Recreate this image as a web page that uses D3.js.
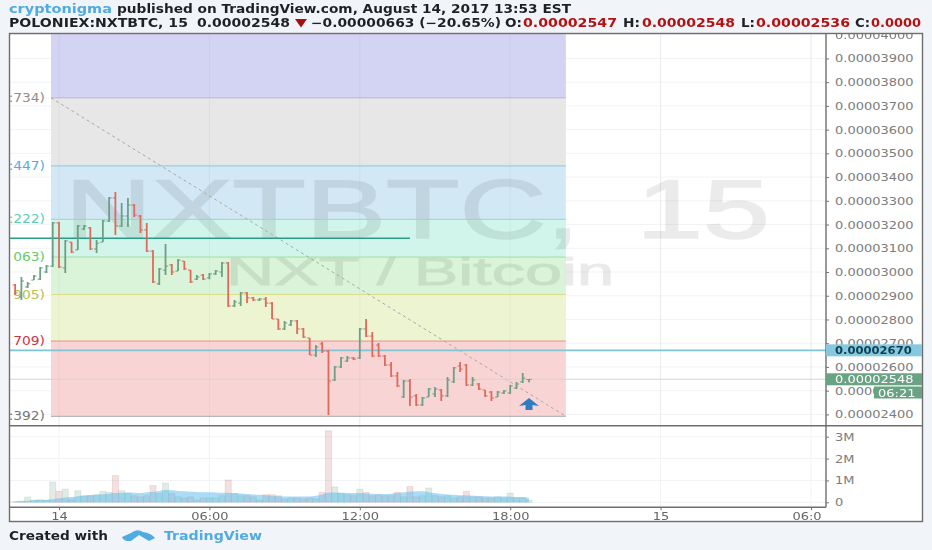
<!DOCTYPE html>
<html>
<head>
<meta charset="utf-8">
<script src="https://cdn.jsdelivr.net/npm/d3@7/dist/d3.min.js"></script>
<style>
html, body { margin: 0; padding: 0; background: #f1f4f8; overflow: hidden; }
svg { display: block; filter: blur(0.45px); }
text { font-family: "DejaVu Sans", sans-serif; }
</style>
</head>
<body>
<svg id="chart" width="932" height="550"></svg>
<script>
// prices are in satoshi (1e-8 BTC), bars are 15 min, first one at 22:15 on the 13th
let firstBarHour = -1.75;
let opens = [2945,2895,2937,2966,2970,3000,3025,3207,3017,3126,3093,3181,3186,3097,3126,3215,3312,3194,3236,3282,3236,3177,3088,2950,3008,3030,3004,3046,3008,2970,2987,2975,2992,3000,3038,2857,2869,2912,2891,2882,2886,2869,2802,2760,2777,2794,2760,2722,2650,2697,2667,2545,2600,2625,2638,2638,2760,2730,2692,2646,2608,2562,2473,2541,2478,2440,2473,2486,2503,2478,2537,2604,2608,2524,2528,2503,2494,2473,2490,2490,2511,2537,2547];
let highs = [2950,2979,2958,2987,3021,3030,3211,3211,3135,3126,3198,3198,3190,3135,3219,3316,3337,3291,3312,3287,3240,3207,3093,3017,3118,3034,3055,3046,3008,2987,2992,2996,3008,3042,3042,2882,2916,2916,2895,2891,2895,2874,2802,2794,2798,2798,2764,2722,2692,2705,2671,2604,2642,2646,2642,2764,2802,2747,2701,2650,2621,2579,2545,2549,2486,2473,2511,2515,2507,2558,2600,2621,2612,2558,2532,2503,2499,2499,2503,2524,2537,2574,2548];
let lows = [2903,2882,2933,2966,2966,2996,3021,3017,2996,3080,3093,3177,3093,3080,3126,3211,3156,3190,3190,3232,3164,3084,2954,2945,2987,2987,3004,3008,2954,2966,2966,2970,2987,2979,2853,2853,2857,2869,2878,2878,2853,2802,2756,2756,2773,2739,2722,2650,2642,2659,2397,2541,2596,2621,2629,2633,2726,2642,2642,2604,2558,2515,2469,2435,2435,2435,2473,2473,2456,2473,2532,2579,2520,2520,2503,2473,2456,2473,2486,2486,2507,2532,2536];
let closes = [2912,2962,2950,2983,3017,3025,3207,3021,3131,3084,3194,3194,3097,3122,3215,3312,3194,3236,3282,3240,3177,3088,2958,3013,3025,3000,3050,3013,2958,2979,2970,2992,3004,3038,2857,2874,2912,2891,2882,2886,2869,2802,2760,2785,2794,2760,2726,2650,2684,2667,2541,2600,2638,2638,2633,2760,2730,2646,2646,2608,2562,2520,2541,2473,2440,2469,2507,2507,2478,2545,2596,2591,2524,2545,2507,2478,2469,2494,2499,2520,2528,2553,2548];
let volumes = [0.04,0.06,0.24,0.1,0.12,0.1,0.93,0.5,0.6,0.12,0.53,0.3,0.3,0.35,0.5,0.45,1.22,0.53,0.4,0.3,0.25,0.3,0.76,0.4,0.87,0.4,0.25,0.2,0.25,0.1,0.2,0.2,0.2,0.3,1.02,0.4,0.3,0.3,0.25,0.1,0.35,0.35,0.3,0.15,0.2,0.2,0.15,0.2,0.15,0.45,3.27,0.7,0.4,0.35,0.3,0.6,0.45,0.3,0.35,0.3,0.3,0.45,0.25,0.72,0.25,0.3,0.65,0.3,0.25,0.3,0.2,0.25,0.5,0.25,0.25,0.2,0.2,0.25,0.2,0.42,0.2,0.2,0.1];
let volumeMa = [0.03,0.05,0.07,0.09,0.1,0.11,0.14,0.18,0.22,0.24,0.28,0.3,0.33,0.35,0.37,0.39,0.42,0.44,0.45,0.44,0.43,0.46,0.48,0.52,0.56,0.55,0.52,0.5,0.48,0.47,0.46,0.46,0.45,0.44,0.44,0.42,0.4,0.38,0.36,0.34,0.32,0.3,0.28,0.27,0.26,0.26,0.26,0.27,0.3,0.36,0.44,0.45,0.44,0.43,0.42,0.41,0.4,0.39,0.38,0.38,0.39,0.42,0.46,0.48,0.5,0.5,0.46,0.42,0.38,0.36,0.34,0.32,0.31,0.3,0.29,0.28,0.27,0.26,0.26,0.25,0.24,0.24,0.2];

let priceTicks = [2400,2500,2600,2700,2800,2900,3000,3100,3200,3300,3400,3500,3600,3700,3800,3900,4000];
let volumeTicks = [0,1,2,3];
let timeTicks = [0,6,12,18,24,30];
let timeLabels = ["14","06:00","12:00","18:00","15","06:0"];

let fibLevels = [4300,3734,3447,3222,3063,2905,2709,2392];
let fibFills = ["#d3d3f4","#e7e7e7","#d2e8f5","#d1f5ea","#d9f4d9","#edf4d2","#f8d4d5"];
let fibLines = ["#b5aee0","#b9b2de","#8cc6de","#86dcc6","#9be29b","#dcdc8a","#ea8e8e","#a8a8a8"];
let fibLabels = [":734)",":447)",":222)","063)","905)","709)",":392)"];
let fibLabelColors = ["#8d8d8d","#56acd8","#5cd0ae","#63cc63","#b4c24e","#cc3344","#777777"];
let fibHours = [-0.32, 20.22];

let lastPrice = 2548;
let alertPrice = 2670;
let resistPrice = 3142;
let resistEndHour = 14;

let svg = d3.select("#chart");

// stretch text sideways, the source picture is a bit wider than tall
function stretch(sel, k) {
    sel.each(function () {
        let t = d3.select(this);
        t.attr("textLength", this.getComputedTextLength() * k).attr("lengthAdjust", "spacingAndGlyphs");
    });
}

let x = d3.scaleLinear().domain([0, 6]).range([59, 209.4]);
let y = d3.scaleLinear().domain([2400, 4000]).range([414.4, 34.7]);
let yVol = d3.scaleLinear().domain([0, 3]).range([502.3, 436.7]);
let barHour = i => firstBarHour + i * 0.25;

let paneL = 10, paneR = 826, paneT = 34, mainB = 425.7, volB = 507.3, outerR = 922.5, outerB = 521.5;

svg.append("rect").attr("x", 9.5).attr("y", 33.5).attr("width", outerR - 9.5).attr("height", outerB - 33.5)
    .attr("fill", "#fff");

let defs = svg.append("defs");
defs.append("clipPath").attr("id", "mainClip").append("rect")
    .attr("x", paneL).attr("y", paneT).attr("width", paneR - paneL).attr("height", mainB - paneT);
defs.append("clipPath").attr("id", "axisClip").append("rect")
    .attr("x", paneR).attr("y", 33.5).attr("width", outerR - paneR).attr("height", mainB - 33.5);

// grid
let grid = svg.append("g").attr("stroke", "#f1f3f6").attr("stroke-width", 1);
grid.selectAll("line.h").data(priceTicks).join("line").attr("class", "h")
    .attr("x1", paneL).attr("x2", paneR).attr("y1", d => y(d)).attr("y2", d => y(d));
grid.selectAll("line.hv").data(volumeTicks).join("line").attr("class", "hv")
    .attr("x1", paneL).attr("x2", paneR).attr("y1", d => yVol(d)).attr("y2", d => yVol(d));
grid.selectAll("line.v").data(timeTicks).join("line").attr("class", "v")
    .attr("x1", d => x(d)).attr("x2", d => x(d)).attr("y1", paneT).attr("y2", volB);

let main = svg.append("g").attr("clip-path", "url(#mainClip)");

// fib zones
main.selectAll("rect.fib").data(fibFills).join("rect")
    .attr("class", "fib")
    .attr("x", x(fibHours[0])).attr("width", x(fibHours[1]) - x(fibHours[0]))
    .attr("y", (d, i) => y(fibLevels[i]))
    .attr("height", (d, i) => y(fibLevels[i + 1]) - y(fibLevels[i]))
    .attr("fill", d => d);
// vertical grid shows faintly through the zones
main.selectAll("line.vg").data(timeTicks).join("line").attr("class", "vg")
    .attr("x1", d => x(d)).attr("x2", d => x(d)).attr("y1", paneT).attr("y2", mainB)
    .attr("stroke", "rgba(0,0,0,0.04)");

// watermark
let wm = main.append("g").attr("opacity", 0.08).attr("fill", "#000").attr("stroke", "#000")
    .style("font-family", "'Liberation Sans', sans-serif");
wm.append("text").attr("x", 65).attr("y", 238).attr("font-size", 84).attr("stroke-width", 1.6)
    .attr("word-spacing", 16).attr("textLength", 705)
    .attr("lengthAdjust", "spacingAndGlyphs").style("font-family", "inherit").text("NXTBTC, 15");
wm.append("text").attr("x", 226).attr("y", 285).attr("font-size", 38).attr("stroke-width", 0.9).attr("textLength", 388)
    .attr("lengthAdjust", "spacingAndGlyphs").style("font-family", "inherit").text("NXT / Bitcoin");

main.selectAll("line.fib").data(fibLevels.slice(1)).join("line")
    .attr("class", "fib")
    .attr("x1", x(fibHours[0])).attr("x2", x(fibHours[1]))
    .attr("y1", d => y(d)).attr("y2", d => y(d))
    .attr("stroke", (d, i) => fibLines[i + 1]).attr("stroke-width", 1);
main.selectAll("text.fib").data(fibLabels).join("text")
    .attr("class", "fib")
    .attr("x", 45).attr("y", (d, i) => y(fibLevels[i + 1]) + 4)
    .attr("text-anchor", "end").attr("font-size", 11.5)
    .attr("fill", (d, i) => fibLabelColors[i]).text(d => d)
    .call(stretch, 1.2);

// trend line of the fib tool
main.append("line")
    .attr("x1", x(fibHours[0])).attr("y1", y(fibLevels[1]))
    .attr("x2", x(fibHours[1])).attr("y2", y(fibLevels[7]))
    .attr("stroke", "#a9a9a9").attr("stroke-width", 1).attr("stroke-dasharray", "3,3");

// last price and drawn lines
main.append("line").attr("x1", paneL).attr("x2", paneR).attr("y1", y(lastPrice)).attr("y2", y(lastPrice))
    .attr("stroke", "#d4d4d4").attr("stroke-width", 1);
main.append("line").attr("x1", paneL).attr("x2", x(resistEndHour)).attr("y1", y(resistPrice)).attr("y2", y(resistPrice))
    .attr("stroke", "#2a9c82").attr("stroke-width", 1.6);
main.append("line").attr("x1", paneL).attr("x2", paneR).attr("y1", y(alertPrice)).attr("y2", y(alertPrice))
    .attr("stroke", "#7fc5d8").attr("stroke-width", 1.6);

// ohlc bars
let barColor = i => closes[i] >= opens[i] ? "#6c9f84" : "#dd6a5c";
let bars = main.selectAll("g.bar").data(opens).join("g").attr("class", "bar")
    .attr("stroke", (d, i) => barColor(i)).attr("stroke-width", 1.8);
bars.append("line")
    .attr("x1", (d, i) => x(barHour(i))).attr("x2", (d, i) => x(barHour(i)))
    .attr("y1", (d, i) => y(highs[i])).attr("y2", (d, i) => y(lows[i]));
bars.append("line")
    .attr("x1", (d, i) => x(barHour(i)) - 2.6).attr("x2", (d, i) => x(barHour(i)))
    .attr("y1", d => y(d)).attr("y2", d => y(d)).attr("stroke-width", 1);
bars.append("line")
    .attr("x1", (d, i) => x(barHour(i))).attr("x2", (d, i) => x(barHour(i)) + 2.6)
    .attr("y1", (d, i) => y(closes[i])).attr("y2", (d, i) => y(closes[i])).attr("stroke-width", 1);

// blue arrow under the last bars
main.append("path")
    .attr("transform", `translate(${x(18.75)},${y(2440)})`)
    .attr("d", "M0,-7 L10,1 L3.5,0 L3.5,5 L-3.5,5 L-3.5,0 L-10,1 Z")
    .attr("fill", "#2f7cc2");

// volume
svg.append("g").selectAll("rect").data(volumes).join("rect")
    .attr("x", (d, i) => x(barHour(i)) - 3).attr("width", 6)
    .attr("y", d => yVol(d)).attr("height", d => yVol(0) - yVol(d))
    .attr("fill", (d, i) => closes[i] >= opens[i] ? "rgba(108,159,132,0.2)" : "rgba(200,120,120,0.22)")
    .attr("stroke", (d, i) => closes[i] >= opens[i] ? "rgba(108,159,132,0.18)" : "rgba(200,120,120,0.2)");
let area = d3.area().x((d, i) => x(barHour(i))).y0(yVol(0)).y1(d => yVol(d)).curve(d3.curveMonotoneX);
svg.append("path").datum(volumeMa).attr("d", area).attr("fill", "rgba(85,185,235,0.5)");

// axes
let priceAxis = d3.axisRight(y).tickValues(priceTicks).tickSize(3).tickPadding(6)
    .tickFormat(d => (d / 1e8).toFixed(8));
let gPrice = svg.append("g").attr("clip-path", "url(#axisClip)").append("g")
    .attr("transform", `translate(${paneR},0)`).call(priceAxis);
let volAxis = d3.axisRight(yVol).tickValues(volumeTicks).tickSize(3).tickPadding(6)
    .tickFormat(d => d === 0 ? "0" : d + "M");
let gVol = svg.append("g").attr("transform", `translate(${paneR},0)`).call(volAxis);
let timeAxis = d3.axisBottom(x).tickValues(timeTicks).tickSize(3).tickPadding(2)
    .tickFormat((d, i) => timeLabels[i]);
let gTime = svg.append("g").attr("transform", `translate(0,${volB})`).call(timeAxis);
[gPrice, gVol, gTime].forEach(g => {
    g.select(".domain").remove();
    g.selectAll("line").attr("stroke", "#777");
    g.selectAll("text").attr("font-size", 11).attr("fill", "#7c7c7c").style("font-family", "'DejaVu Sans', sans-serif");
    stretch(g.selectAll("text"), 1.18);
});
gTime.selectAll("text").attr("fill", "#666");
gTime.selectAll(".tick").filter(d => d === 30).select("text").attr("dx", -4.5);
gPrice.selectAll(".tick").filter(d => d === 4000).select("line").remove();

// frame
let frame = svg.append("g").attr("stroke", "#6e6e6e").attr("stroke-width", 1.4);
frame.append("rect").attr("x", 9.5).attr("y", 33.5).attr("width", outerR - 9.5).attr("height", outerB - 33.5).attr("fill", "none");
frame.append("line").attr("x1", 9.5).attr("x2", outerR).attr("y1", mainB).attr("y2", mainB);
frame.append("line").attr("x1", 9.5).attr("x2", paneR).attr("y1", volB).attr("y2", volB);
frame.append("line").attr("x1", paneR).attr("x2", paneR).attr("y1", 33.5).attr("y2", volB);

// price labels on the axis
function priceTag(price, fill, color, left, right, text, bold) {
    let cy = y(price);
    svg.append("rect").attr("x", left).attr("y", cy - 6).attr("width", right - left).attr("height", 12).attr("fill", fill);
    svg.append("text").attr("x", left + 9).attr("y", cy + 4).attr("font-size", 11)
        .attr("font-weight", bold ? "bold" : "normal").attr("fill", color).text(text).call(stretch, bold ? 1.05 : 1.18);
}
priceTag(alertPrice, "#86c9df", "#0f3d52", paneR, outerR - 0.5, (alertPrice / 1e8).toFixed(8), true);
priceTag(lastPrice, "#6aa384", "#fff", paneR, outerR - 0.5, (lastPrice / 1e8).toFixed(8), false);
svg.append("rect").attr("x", 874).attr("y", 386.5).attr("width", 48).attr("height", 12).attr("fill", "#6aa384");
svg.append("text").attr("x", 878).attr("y", 396.5).attr("font-size", 11).attr("fill", "#fff").text("06:21").call(stretch, 1.18);

// header
let head = svg.append("g").attr("font-weight", "bold").attr("font-size", 11.5).attr("fill", "#1d2126");
function headText(xp, yp, str, color, wid) {
    let t = head.append("text").attr("x", xp).attr("y", yp).text(str);
    if (color) t.attr("fill", color);
    if (wid) t.attr("textLength", wid).attr("lengthAdjust", "spacingAndGlyphs");
    return t;
}
headText(9, 12.5, "cryptonigma", "#4fabe0", 103);
headText(117, 12.5, "published on TradingView.com, August 14, 2017 13:53 EST", null, 454);
headText(9, 27, "POLONIEX:NXTBTC, 15", null, 179);
headText(197, 27, "0.00002548", null, 93);
svg.append("path").attr("d", "M295,19 L307,19 L301,27.5 Z").attr("fill", "#a31010");
headText(311, 27, "\u22120.00000663 (\u221220.65%)", null, 190);
let red = "#b31212";
headText(505, 27, "O:", null, 17);
headText(523, 27, "0.00002547", red, 94);
headText(623, 27, "H:", null, 17);
headText(642, 27, "0.00002548", red, 93);
headText(741, 27, "L:", null, 14);
headText(756, 27, "0.00002536", red, 94);
headText(855, 27, "C:", null, 15);
headText(871, 27, "0.0000", red, 50);

// footer
let foot = svg.append("g").attr("font-weight", "bold").attr("font-size", 11.5);
foot.append("text").attr("x", 9).attr("y", 540).attr("fill", "#1d2126").attr("textLength", 99)
    .attr("lengthAdjust", "spacingAndGlyphs").text("Created with");
foot.append("path").attr("d", "M122,537 L131,533 Q137,528 143,532 Q151,533 155,538 L149,541 L139,535 L131,541 L127,541 Q123,540 122,537 Z")
    .attr("fill", "#4fabe0");
foot.append("text").attr("x", 164).attr("y", 540).attr("fill", "#4fabe0").attr("textLength", 98)
    .attr("lengthAdjust", "spacingAndGlyphs").text("TradingView");
</script>
</body>
</html>
